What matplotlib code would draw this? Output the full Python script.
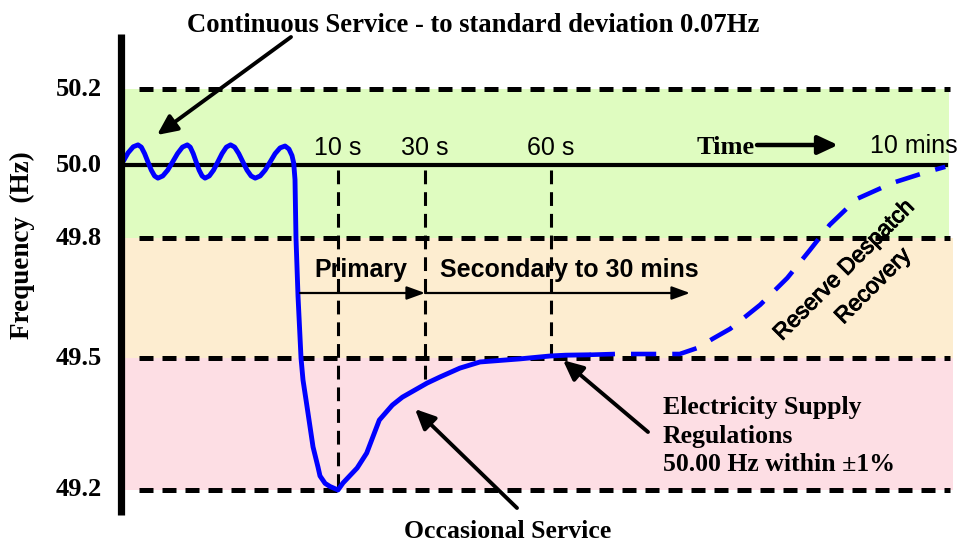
import numpy as np
import matplotlib
matplotlib.use("Agg")
import matplotlib.pyplot as plt
import matplotlib.patheffects as pe

# ------------------------------------------------------------------ data
freq_levels = [50.2, 50.0, 49.8, 49.5, 49.2]
freq_labels = ["50.2", "50.0", "49.8", "49.5", "49.2"]
dashed_levels = [50.2, 49.8, 49.5, 49.2]
nominal_freq = 50.0
band_low = [49.8, 49.5, 49.2]
band_high = [50.2, 49.8, 49.5]
band_colors = ["#DFFCC0", "#FDEDD0", "#FDDEE4"]

time_marks = [10, 30, 60]
time_mark_labels = ["10 s", "30 s", "60 s"]
time_mark_bottom = [49.2, 49.443, 49.5]
time_mark_top = 49.986

# continuous-service oscillation (before the loss)
t_osc = [-39.7, -38.6, -37.4, -36.3,
         -35.53, -34.77, -34.0, -33.23, -32.47, -31.7,
         -30.57, -29.43, -28.3, -27.17, -26.03, -24.9,
         -24.22, -23.53, -22.85, -22.17, -21.48, -20.8,
         -19.82, -18.83, -17.85, -16.87, -15.88, -14.9,
         -13.95, -13.0, -12.05, -11.1, -10.15, -9.2,
         -8.05, -6.9, -5.75, -4.6, -3.45, -2.3,
         -1.4, -0.7, -0.3]
f_osc = [50.010, 50.032, 50.048, 50.053,
         50.047, 50.030, 50.008, 49.986, 49.970, 49.964,
         49.970, 49.986, 50.008, 50.030, 50.047, 50.053,
         50.047, 50.030, 50.008, 49.986, 49.970, 49.964,
         49.970, 49.986, 50.008, 50.030, 50.047, 50.053,
         50.047, 50.030, 50.008, 49.986, 49.970, 49.964,
         49.970, 49.986, 50.008, 50.030, 50.045, 50.050,
         50.042, 50.025, 50.005]

# loss event, primary and secondary response (solid)
t_event = [0.0, 0.23, 0.7, 1.4, 1.86, 2.56, 3.02, 4.19, 5.35, 5.81, 7.0, 8.14, 10.0,
           11.15, 14.4, 16.6, 19.5, 22.5, 24.8, 30.5, 33.6, 38.3, 43.1, 52.6,
           59.8, 80.0, 113.0]
f_event = [49.960, 49.800, 49.655, 49.500, 49.450, 49.405, 49.375, 49.298, 49.252,
           49.232, 49.215, 49.208, 49.200,
           49.216, 49.250, 49.284, 49.359, 49.393, 49.411, 49.443, 49.457, 49.477,
           49.491, 49.498, 49.505, 49.507, 49.508]

# reserve despatch recovery (dashed)
t_reserve = [113.0, 147.5, 236.0, 260.0, 281.0, 305.0, 346.0, 383.0, 414.0, 441.0,
             478.0, 527.0, 574.0, 599.0]
f_reserve = [49.508, 49.510, 49.510, 49.525, 49.548, 49.573, 49.633, 49.700, 49.770,
             49.836, 49.907, 49.951, 49.981, 49.995]

# ------------------------------------------------------------------ scales
W, H, DPI = 964, 541, 100
X_T = [-100, -40, 0, 10, 30, 60, 600, 1500]
X_P = [-137.5, 122, 295, 338, 425, 551, 946, 1604]
Y_F = [48.5, 49.2, 49.5, 49.8, 50.0, 50.2, 51.0]
Y_P = [798, 490, 358, 238, 165, 89, -215]
Y_NP = [-v for v in Y_P]


def xf(t):
    return np.interp(t, X_T, X_P)


def xi(p):
    return np.interp(p, X_P, X_T)


def yf(f):
    return np.interp(f, Y_F, Y_NP)


def yi(p):
    return np.interp(p, Y_NP, Y_F)


def px(x, y):
    return (x / W, 1 - y / H)


SERIF = ["Liberation Serif", "DejaVu Serif"]
SANS = ["Liberation Sans", "DejaVu Sans"]

fig = plt.figure(figsize=(W / DPI, H / DPI), dpi=DPI)
ax = fig.add_axes([0, 0, 1, 1])
ax.set_xscale("function", functions=(xf, xi))
ax.set_yscale("function", functions=(yf, yi))
ax.set_xlim(float(xi(0)), float(xi(W)))
ax.set_ylim(float(yi(-H)), float(yi(0)))
ax.set_axis_off()

# bands
band_right = [604, 610, 610]
for lo, hi, c, r in zip(band_low, band_high, band_colors, band_right):
    ax.fill_between([-40, r], [lo, lo], [hi, hi], color=c, lw=0, zorder=1)

# dashed frequency limits
for lev in dashed_levels:
    ax.plot([-36, 605], [lev, lev], color="black", lw=3.6,
            dashes=(2.8, 1.8), dash_capstyle="butt", zorder=3)

# nominal line
ax.plot([-40, 600], [nominal_freq, nominal_freq], color="black", lw=3.0, zorder=3)

# vertical time markers
for t, lab, bot in zip(time_marks, time_mark_labels, time_mark_bottom):
    ax.plot([t, t], [time_mark_top, bot], color="black", lw=2.2,
            dashes=(4.5, 2.6), dash_capstyle="butt", zorder=3)
    ax.text(t, 50.046, lab, ha="center", va="center", fontsize=18,
            family=SANS, zorder=6)

# frequency curve
t_solid = t_osc + t_event
f_solid = f_osc + f_event
ax.plot(t_solid, f_solid, color="#0000FF", lw=3.5, solid_joinstyle="round",
        solid_capstyle="round", zorder=4)
ax.plot(t_reserve, f_reserve, color="#0000FF", lw=3.3, dashes=(5.5, 3.5),
        dash_capstyle="butt", zorder=4)

# y axis bar
ax.plot([-40.3, -40.3], [49.143, 50.345], color="black", lw=5.2,
        solid_capstyle="butt", zorder=5)

# tick labels
ytr = ax.get_yaxis_transform()
for lev, lab in zip(freq_levels, freq_labels):
    ax.text(102 / W, lev, lab, transform=ytr, ha="right", va="center",
            fontsize=19, fontweight="bold", family=SERIF)

fig.text(*px(22, 245), "Frequency  (Hz)", rotation=90, ha="center", va="center",
         fontsize=19.5, fontweight="bold", family=SERIF)

# title annotation
fig.text(*px(473, 25), "Continuous Service - to standard deviation 0.07Hz",
         ha="center", va="center", fontsize=19.2, fontweight="bold", family=SERIF)
big = dict(arrowstyle="-|>,head_length=0.6,head_width=0.28", mutation_scale=20,
           lw=2.8, color="black", shrinkA=0, shrinkB=0)
ax.annotate("", xy=(-31.9, 50.079), xytext=px(291, 37), xycoords="data",
            textcoords="figure fraction", arrowprops=big, zorder=7)

# time arrow
fig.text(*px(697, 148), "Time", ha="left", va="center", fontsize=19,
         fontweight="bold", family=SERIF)
ax.annotate("", xy=px(838, 145), xytext=px(757, 145), xycoords="figure fraction",
            arrowprops=dict(arrowstyle="-|>,head_length=0.6,head_width=0.28",
                            mutation_scale=20, lw=3.2, color="black",
                            shrinkA=0, shrinkB=0), zorder=7)
fig.text(*px(870, 146), "10 mins", ha="left", va="center", fontsize=18, family=SANS)

# primary / secondary
f_arrow = 49.6625
small = dict(arrowstyle="-|>,head_length=0.55,head_width=0.2", mutation_scale=20,
             lw=1.6, color="black", shrinkA=0, shrinkB=0)
ax.annotate("", xy=(30, f_arrow), xytext=(1.16, f_arrow), arrowprops=small, zorder=7)
ax.annotate("", xy=(250, f_arrow), xytext=(30, f_arrow), arrowprops=small, zorder=7)
fig.text(*px(361, 270), "Primary", ha="center", va="center", fontsize=18,
         fontweight="bold", family=SANS)
fig.text(*px(440, 270), "Secondary to 30 mins", ha="left", va="center", fontsize=18,
         fontweight="bold", family=SANS)

# reserve despatch
heavy = [pe.withStroke(linewidth=0.7, foreground="black")]
fig.text(*px(844, 270), "Reserve Despatch", rotation=45, ha="center", va="center",
         rotation_mode="anchor", fontsize=16.5, family=SANS, path_effects=heavy)
fig.text(*px(873, 286), "Recovery", rotation=45, ha="center", va="center",
         rotation_mode="anchor", fontsize=16.5, family=SANS, path_effects=heavy)

# electricity supply regulations
fig.text(*px(663, 436), "Electricity Supply\nRegulations\n50.00 Hz within \u00b11%",
         ha="left", va="center", fontsize=18.5, fontweight="bold", family=SERIF,
         linespacing=1.3)
ax.annotate("", xy=(76.4, 49.495), xytext=px(648, 432), textcoords="figure fraction",
            arrowprops=big, zorder=7)

# occasional service
fig.text(*px(508, 531), "Occasional Service", ha="center", va="center", fontsize=18.5,
         fontweight="bold", family=SERIF)
ax.annotate("", xy=(27.7, 49.384), xytext=px(517, 508), textcoords="figure fraction",
            arrowprops=big, zorder=7)

fig.savefig("out.png", dpi=DPI)
